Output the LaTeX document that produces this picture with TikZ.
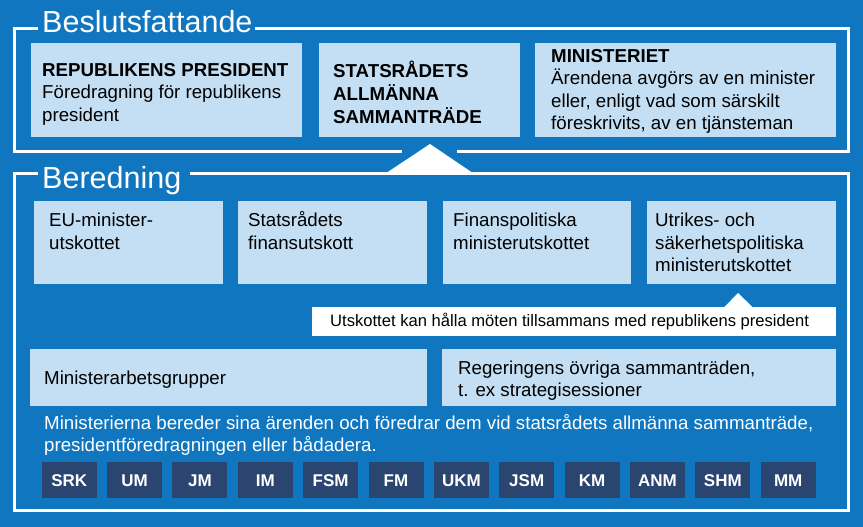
\documentclass[tikz,border=0pt]{standalone}
\usepackage{fontspec}
\setmainfont{Liberation Sans}
\usetikzlibrary{fit}
\definecolor{bgblue}{HTML}{1076BF}
\definecolor{lightbox}{HTML}{C4DFF4}
\definecolor{navybox}{HTML}{2B4571}
\tikzset{
 lbox/.style={fill=lightbox, inner sep=0pt, draw=none},
 wbox/.style={fill=white, inner sep=0pt, draw=none},
 nbox/.style={fill=navybox, inner sep=0pt, draw=none, text=white, minimum width=55pt, minimum height=36pt, text height=12pt, text depth=0pt, anchor=north west, font=\fontsize{17}{20}\selectfont\bfseries},
 frameline/.style={draw=white, line width=3pt},
 head/.style={text=white, font=\fontsize{30.5}{35}\selectfont, inner sep=0pt, anchor=base west},
 txt/.style={text=black, font=\fontsize{18.7}{22.5}\selectfont, inner sep=0pt, anchor=north west, align=left},
 wtxt/.style={txt, text=white},
 ctxt/.style={text=black, font=\fontsize{16.6}{20}\selectfont, inner sep=0pt, anchor=base west},
}
\begin{document}
\begin{tikzpicture}[x=1pt,y=-1pt]
\useasboundingbox (0,0) rectangle (863,527);
\fill[bgblue] (0,0) rectangle (863,527);

% Beslutsfattande frame
\draw[frameline] (38,29) -- (14,29) -- (14,151) -- (402,151);
\draw[frameline] (457,151) -- (848,151) -- (848,29) -- (255,29);
\node[head] (hbes) at (42,33) {Beslutsfattande};

% Beredning frame
\draw[frameline] (38,173) -- (14,173) -- (14,510) -- (848,510) -- (848,173) -- (190,173);
\node[head] (hber) at (42,188) {Beredning};

% upward triangle
\fill[white] (384,174.5) -- (430,144) -- (475,174.5) -- cycle;

% top boxes
\node[lbox, fit={(31,43) (302,137)}] (b1) {};
\node[lbox, fit={(319,43) (520,137)}] (b2) {};
\node[lbox, fit={(535,43) (836,137)}] (b3) {};
\node[txt] (t1) at (42,60.25) {\strut\textbf{REPUBLIKENS PRESIDENT}\\Föredragning för republikens\\president};
\node[txt] (t2) at (333,60.5) {\strut\textbf{STATSRÅDETS}\\\textbf{ALLMÄNNA}\\\textbf{SAMMANTRÄDE}};
\node[txt] (t3) at (551,46.25) {\strut\textbf{MINISTERIET}\\Ärendena avgörs av en minister\\eller, enligt vad som särskilt\\föreskrivits, av en tjänsteman};

% Beredning row 1
\node[lbox, fit={(34,201) (223,284)}] (r1) {};
\node[lbox, fit={(238,201) (427,284)}] (r2) {};
\node[lbox, fit={(443,201) (631,284)}] (r3) {};
\node[lbox, fit={(647,201) (836,284)}] (r4) {};
\node[txt] (u1) at (49,210.75) {\strut EU-minister-\\utskottet};
\node[txt] (u2) at (248,210.75) {\strut Statsrådets\\finansutskott};
\node[txt] (u3) at (453,210.75) {\strut Finanspolitiska\\ministerutskottet};
\node[txt] (u4) at (655,210.75) {\strut Utrikes- och\\säkerhetspolitiska\\ministerutskottet};

% callout
\fill[white] (724,307.5) -- (738,293) -- (753,307.5) -- cycle;
\node[wbox, fit={(312,307) (836,336)}] (call) {};
\node[ctxt] (calltxt) at (330,326) {Utskottet kan hålla möten tillsammans med republikens president};

% row 3
\node[lbox, fit={(30,349) (427,406)}] (g1) {};
\node[lbox, fit={(442,349) (836,406)}] (g2) {};
\node[txt] (v1) at (44,368.25) {\strut Ministerarbetsgrupper};
\node[txt] (v2) at (458,358.25) {\strut Regeringens övriga sammanträden,\\t. ex strategisessioner};

% bottom text
\node[wtxt] (note) at (44,413.5) {\strut Ministerierna bereder sina ärenden och föredrar dem vid statsrådets allmänna sammanträde,\\presidentföredragningen eller bådadera.};

% ministries
\foreach \lab [count=\i from 0] in {SRK,UM,JM,IM,FSM,FM,UKM,JSM,KM,ANM,SHM,MM}{
  \node[nbox] (m\i) at ({41.5+65.36*\i},462) {\lab};
}
\end{tikzpicture}
\end{document}
